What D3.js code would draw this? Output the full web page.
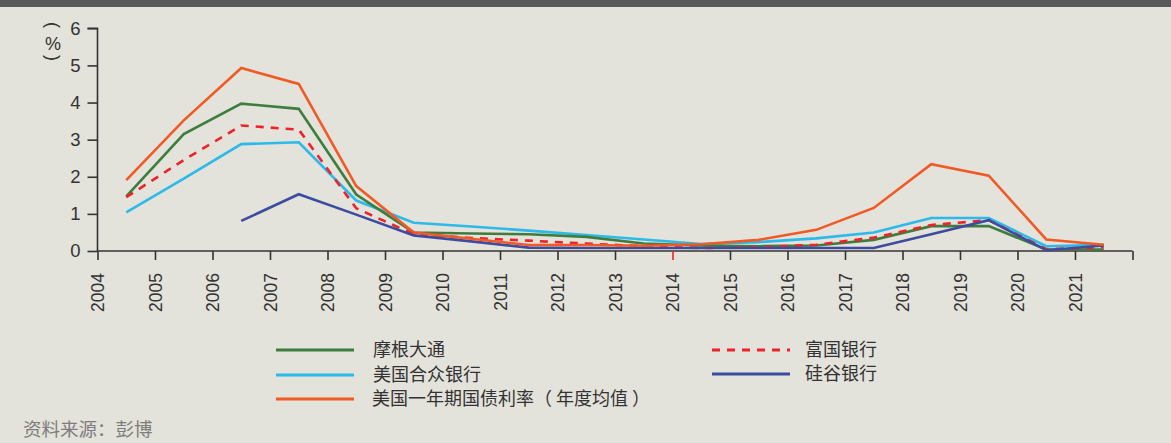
<!DOCTYPE html>
<html>
<head>
<meta charset="utf-8">
<script src="https://cdn.jsdelivr.net/npm/d3@7"></script>
<style>
  html, body { margin: 0; padding: 0; background: #e3e2db; }
  svg { display: block; }
</style>
</head>
<body>
<svg id="chart" width="1171" height="443"></svg>
<script>
// ---------- DATA ----------
const years = [2004, 2005, 2006, 2007, 2008, 2009, 2010, 2011, 2012, 2013, 2014, 2015, 2016, 2017, 2018, 2019, 2020, 2021];
const xTickYears = [2004, 2005, 2006, 2007, 2008, 2009, 2010, 2011, 2012, 2013, 2014, 2015, 2016, 2017, 2018, 2019, 2020, 2021, 2022];
const xTickLabels = ["2004", "2005", "2006", "2007", "2008", "2009", "2010", "2011", "2012", "2013", "2014", "2015", "2016", "2017", "2018", "2019", "2020", "2021", ""];
const yTicks = [0, 1, 2, 3, 4, 5, 6];

const jpm      = [1.47, 3.15, 3.97, 3.83, 1.52, 0.50, 0.47, 0.45, 0.38, 0.20, 0.15, 0.13, 0.15, 0.30, 0.67, 0.67, 0.04, 0.04];
const bofa     = [1.04, 1.95, 2.88, 2.93, 1.36, 0.76, 0.66, 0.55, 0.43, 0.31, 0.19, 0.24, 0.34, 0.50, 0.89, 0.89, 0.13, 0.17];
const treasury = [1.91, 3.52, 4.93, 4.50, 1.75, 0.50, 0.33, 0.16, 0.16, 0.14, 0.18, 0.30, 0.57, 1.16, 2.34, 2.03, 0.31, 0.17];
const wells    = [1.45, 2.45, 3.38, 3.27, 1.15, 0.45, 0.35, 0.28, 0.20, 0.13, 0.08, 0.10, 0.17, 0.36, 0.70, 0.83, 0.05, 0.10];
const svb      = [null, null, 0.81, 1.53, 0.98, 0.42, 0.26, 0.09, 0.08, 0.08, 0.08, 0.08, 0.08, 0.08, 0.45, 0.83, 0.02, 0.15];

const seriesNames  = ["摩根大通", "美国合众银行", "美国一年期国债利率（ 年度均值 ）", "富国银行", "硅谷银行"];
const seriesColors = ["#3f7d3e", "#2bbaea", "#f15a24", "#ee2229", "#3d4c9e"];
const seriesDash   = [null, null, null, "8,7", null];
const seriesValues = [jpm, bofa, treasury, wells, svb];

const yLabel = ["(", "%", ")"];
const sourceText = "资料来源：彭博";

// ---------- LAYOUT ----------
const svg = d3.select("#chart");
const W = 1171, H = 443;
svg.append("rect").attr("width", W).attr("height", H).attr("fill", "#e3e2db");
svg.append("rect").attr("width", W).attr("height", 7).attr("fill", "#58595b");

const x = d3.scaleLinear().domain([2004, 2022]).range([97.5, 1132.5]);
const y = d3.scaleLinear().domain([0, 6]).range([251, 28.3]);

const axisColor = "#333";
const tickFont = "'Liberation Sans', Arial, sans-serif";

// Y axis
const gy = svg.append("g").attr("transform", `translate(${x(2004)},0)`)
  .call(d3.axisLeft(y).tickValues(yTicks).tickSize(10).tickPadding(7).tickFormat(d3.format("d")));
gy.select(".domain").attr("stroke", axisColor).attr("stroke-width", 1.6).attr("d", `M-10,${y(6)}H0V${y(0)}`);
gy.selectAll(".tick line").attr("stroke", axisColor).attr("stroke-width", 1.6);
gy.selectAll(".tick text").attr("fill", "#333").attr("font-size", 18.5).attr("font-family", tickFont);

// X axis
const gx = svg.append("g").attr("transform", `translate(0,${y(0)})`)
  .call(d3.axisBottom(x).tickValues(xTickYears).tickSize(9)
    .tickFormat((d, i) => xTickLabels[i]));
gx.select(".domain").attr("stroke", axisColor).attr("stroke-width", 1.6).attr("d", `M${x(2004)},0H${x(2022)}`);
gx.selectAll(".tick line").attr("stroke", d => d === 2014 ? "#ee2229" : axisColor).attr("stroke-width", 1.6);
gx.selectAll(".tick text")
  .attr("fill", "#333").attr("font-size", 17.5).attr("font-family", tickFont)
  .attr("transform", "rotate(-90)")
  .attr("text-anchor", "end")
  .attr("x", -22).attr("y", 0).attr("dy", "0.35em");

// Y label (vertical)
const yl = svg.append("g").attr("font-family", tickFont).attr("font-size", 18).attr("fill", "#333");
const ylPos = [25, 43.5, 58];
yLabel.forEach((t, i) => {
  yl.append("text").text(t)
    .attr("text-anchor", "middle").attr("dominant-baseline", "central")
    .attr("transform", `translate(53,${ylPos[i]})` + (i === 1 ? "" : " rotate(90)"));
});

// Lines
const line = d3.line()
  .defined(d => d.v !== null)
  .x(d => x(d.year + 0.5))
  .y(d => y(d.v));

const drawOrder = [1, 0, 3, 4, 2];
drawOrder.forEach(si => {
  const pts = years.map((yr, i) => ({ year: yr, v: seriesValues[si][i] }));
  svg.append("path")
    .datum(pts)
    .attr("d", line)
    .attr("fill", "none")
    .attr("stroke", seriesColors[si])
    .attr("stroke-width", 2.6)
    .attr("stroke-linejoin", "miter")
    .attr("stroke-dasharray", seriesDash[si]);
});

// Legend
const cjkFont = "'Noto Sans CJK SC', 'Noto Sans', sans-serif";
const legendPos = [
  { lx: 276, ly: 350, tx: 373 },
  { lx: 276, ly: 375, tx: 373 },
  { lx: 276, ly: 399, tx: 372 },
  { lx: 712, ly: 350, tx: 805 },
  { lx: 712, ly: 374, tx: 805 }
];
const lg = svg.append("g");
seriesNames.forEach((name, i) => {
  const p = legendPos[i];
  lg.append("line")
    .attr("x1", p.lx).attr("x2", p.lx + 78)
    .attr("y1", p.ly).attr("y2", p.ly)
    .attr("stroke", seriesColors[i]).attr("stroke-width", 3.2)
    .attr("stroke-dasharray", seriesDash[i]);
  lg.append("text").text(name)
    .attr("x", p.tx).attr("y", p.ly - 2)
    .attr("dominant-baseline", "central")
    .attr("font-family", cjkFont).attr("font-size", 18)
    .attr("fill", "#333");
});

// Source
svg.append("text").text(sourceText)
  .attr("x", 23).attr("y", 436)
  .attr("font-family", cjkFont).attr("font-size", 18.5)
  .attr("fill", "#7d7d7d");
</script>
</body>
</html>
